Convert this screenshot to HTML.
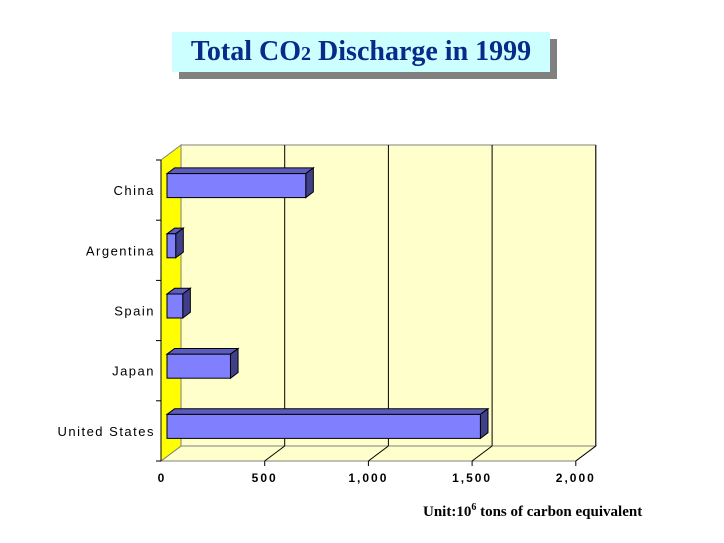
<!DOCTYPE html>
<html><head><meta charset="utf-8"><style>
body{margin:0;background:#fff;width:724px;height:543px;overflow:hidden;position:relative;font-family:"Liberation Sans",sans-serif}
#title{position:absolute;left:172px;top:32px;width:378px;height:40px;background:#ccffff;box-shadow:7px 7px 0 #808080;text-align:center;font:bold 28px "Liberation Serif",serif;color:#0a2a8a;line-height:40px}
#unit{position:absolute;left:423px;top:502px;font:bold 15px "Liberation Serif",serif;color:#000}
</style></head><body>
<div id="title">Total CO<span style="font-size:20px">2</span> Discharge in 1999</div>
<div id="unit">Unit:10<sup style="font-size:10px">6</sup> tons of carbon equivalent</div>
<svg id="chart" width="724" height="543" style="position:absolute;left:0;top:0"></svg>
<script>
const categories=["China","Argentina","Spain","Japan","United States"];
const values=[669,42,76,306,1511];
const ticks=[0,500,1000,1500,2000];
const tickLabels=["0","500","1,000","1,500","2,000"];
const NS="http://www.w3.org/2000/svg";
const svg=document.getElementById('chart');
const x0=161,kx=103.7/500,yTop=160,yBot=461,DX=20,DY=-15;
const xs=v=>x0+v*kx;
const band=(yBot-yTop)/categories.length;
const yc=i=>yTop+band*(i+0.5);
function mk(t,a,name){const e=document.createElementNS(NS,t);for(const k in a)e.setAttribute(k,a[k]);


svg.appendChild(e);return e;}
const xmax=xs(2000);
// back wall
mk('rect',{x:x0+DX,y:yTop+DY,width:xmax-x0,height:yBot-yTop,fill:'#ffffcc',stroke:'#808080','stroke-width':1},'back-wall');
// floor
mk('polygon',{points:`${x0},${yBot} ${x0+DX},${yBot+DY} ${xmax+DX},${yBot+DY} ${xmax},${yBot}`,fill:'#ffffcc',stroke:'#808080','stroke-width':1},'floor');
// left wall
mk('polygon',{points:`${x0},${yTop} ${x0+DX},${yTop+DY} ${x0+DX},${yBot+DY} ${x0},${yBot}`,fill:'#ffff00',stroke:'#808080','stroke-width':1},'side-wall');
// gridlines
ticks.forEach((t,i)=>{if(t===0)return;const x=xs(t);
mk('line',{x1:x+DX,y1:yTop+DY,x2:x+DX,y2:yBot+DY,stroke:'#000'},'gridline');
mk('line',{x1:x,y1:yBot,x2:x+DX,y2:yBot+DY,stroke:'#000'},'floor-gridline');
mk('line',{x1:x,y1:yBot,x2:x,y2:yBot+5,stroke:'#000'},'x-tick');
const tx=mk('text',{x:x,y:yBot+21,'text-anchor':'middle','font-size':12,'font-weight':'bold','letter-spacing':'2','font-family':'Liberation Sans, sans-serif'},'x-tick-label');tx.textContent=tickLabels[i];});
const t0=mk('text',{x:x0,y:yBot+21,'text-anchor':'middle','font-size':12,'font-weight':'bold','font-family':'Liberation Sans, sans-serif'},'x-tick-label');t0.textContent=tickLabels[0];
// y axis
mk('line',{x1:x0,y1:yTop,x2:x0,y2:yBot,stroke:'#000'},'y-axis');
for(let i=0;i<=categories.length;i++){const y=yTop+band*i;mk('line',{x1:x0-5,y1:y,x2:x0,y2:y,stroke:'#000'},'y-tick');}
// bars
const f0=0.3,f1=0.68,bh=24;
categories.forEach((c,i)=>{
const lx=x0+DX*f0,cy=yc(i)+DY*f0,rx=xs(values[i])+DX*f0;
const ox=DX*(f1-f0),oy=DY*(f1-f0),t=cy-bh/2,b=cy+bh/2;
mk('polygon',{points:`${lx},${t} ${lx+ox},${t+oy} ${rx+ox},${t+oy} ${rx},${t}`,fill:'#5c5cbf',stroke:'#000'},'bar-top');
mk('polygon',{points:`${rx},${t} ${rx+ox},${t+oy} ${rx+ox},${b+oy} ${rx},${b}`,fill:'#40408a',stroke:'#000'},'bar-side');
mk('rect',{x:lx,y:t,width:rx-lx,height:bh,fill:'#8080ff',stroke:'#000'},'bar-'+c.toLowerCase().replace(' ','-'));
const tl=mk('text',{x:x0-6,y:yc(i)+5,'text-anchor':'end','font-size':13,'letter-spacing':'1.5','font-family':'Liberation Sans, sans-serif'},'y-category-label');tl.textContent=c;
});
</script>
</body></html>
